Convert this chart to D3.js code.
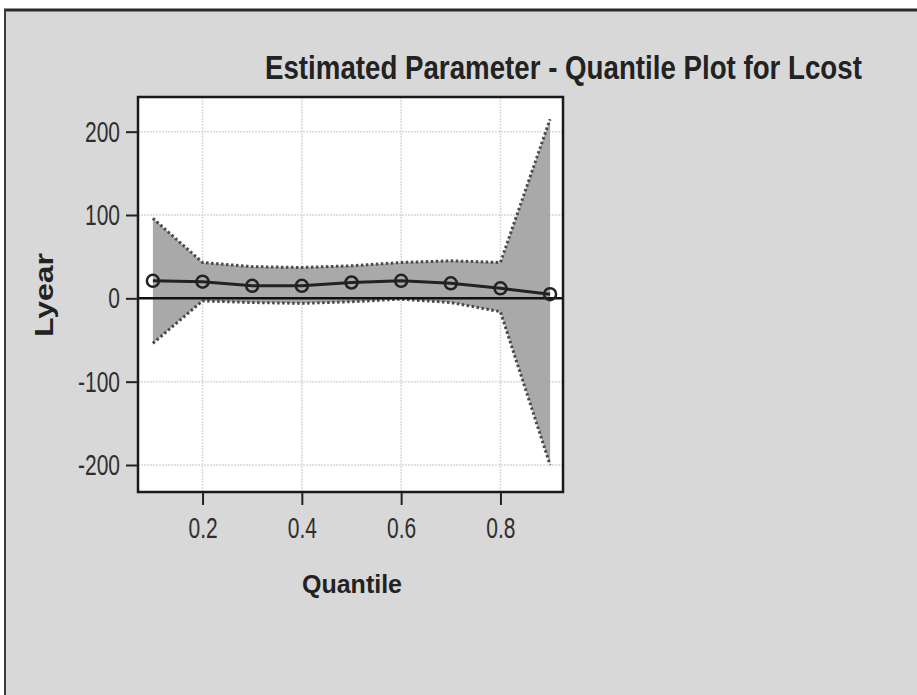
<!DOCTYPE html>
<html>
<head>
<meta charset="utf-8">
<script src="https://cdn.jsdelivr.net/npm/d3@7"></script>
<style>
  html, body { margin: 0; padding: 0; background: #ffffff; }
  svg { display: block; }
</style>
</head>
<body>
<svg id="chart" width="917" height="695"></svg>
<script>
// Quantile regression estimates for Lyear, with confidence limits
const quantiles = [0.1, 0.2, 0.3, 0.4, 0.5, 0.6, 0.7, 0.8, 0.9];
const estimate  = [21, 20, 15, 15, 19, 21, 18, 12, 5];
const upperCL   = [96, 43, 38, 37, 39, 43, 45, 43, 215];
const lowerCL   = [-54, -3, -5, -6, -4, -1, -5, -16, -200];

const xTicks = [0.2, 0.4, 0.6, 0.8];
const yTicks = [-200, -100, 0, 100, 200];

const titleText = "Estimated Parameter - Quantile Plot for Lcost";
const xLabel = "Quantile";
const yLabel = "Lyear";

const W = 917, H = 695;
const plot = { left: 138, right: 563, top: 97, bottom: 492 };
const sansFont = "'Liberation Sans', Arial, sans-serif";

const svg = d3.select("#chart");

// Page background and outer frame
svg.append("rect").attr("x", 0).attr("y", 0).attr("width", W).attr("height", H).attr("fill", "#ffffff");
svg.append("rect").attr("x", 5).attr("y", 10).attr("width", W - 5).attr("height", H - 10).attr("fill", "#d8d8d8");
svg.append("line").attr("x1", 4).attr("x2", W).attr("y1", 10).attr("y2", 10)
  .attr("stroke", "#2a2a2a").attr("stroke-width", 3);
svg.append("line").attr("x1", 5).attr("x2", 5).attr("y1", 9).attr("y2", H)
  .attr("stroke", "#3a3a3a").attr("stroke-width", 2);

const x = d3.scaleLinear().domain([0.07, 0.926]).range([plot.left, plot.right]);
const y = d3.scaleLinear().domain([-232.4, 241.6]).range([plot.bottom, plot.top]);

// Plot area
svg.append("rect")
  .attr("x", plot.left).attr("y", plot.top)
  .attr("width", plot.right - plot.left).attr("height", plot.bottom - plot.top)
  .attr("fill", "#ffffff");

// Grid
const grid = svg.append("g");
grid.selectAll("line.vx").data(xTicks).join("line")
  .attr("x1", d => x(d)).attr("x2", d => x(d))
  .attr("y1", plot.top).attr("y2", plot.bottom)
  .attr("stroke", "#d9d9d9").attr("stroke-width", 1.5).attr("stroke-dasharray", "2,1");
grid.selectAll("line.hy").data(yTicks).join("line")
  .attr("x1", plot.left).attr("x2", plot.right)
  .attr("y1", d => y(d)).attr("y2", d => y(d))
  .attr("stroke", "#d9d9d9").attr("stroke-width", 1.5).attr("stroke-dasharray", "2,1");

const rows = quantiles.map((q, i) => ({ q, est: estimate[i], hi: upperCL[i], lo: lowerCL[i] }));

// Confidence band
svg.append("path").datum(rows)
  .attr("d", d3.area().x(d => x(d.q)).y0(d => y(d.lo)).y1(d => y(d.hi)))
  .attr("fill", "#a9a9a9");

const edge = (key) => d3.line().x(d => x(d.q)).y(d => y(d[key]));
["hi", "lo"].forEach(k => {
  svg.append("path").datum(rows)
    .attr("d", edge(k))
    .attr("fill", "none")
    .attr("stroke", "#4a4a4a")
    .attr("stroke-width", 3)
    .attr("stroke-dasharray", "2.5,2.5");
});

// Zero reference line
svg.append("line")
  .attr("x1", plot.left).attr("x2", plot.right)
  .attr("y1", y(0)).attr("y2", y(0))
  .attr("stroke", "#111").attr("stroke-width", 2.5);

// Estimate line with markers
svg.append("path").datum(rows)
  .attr("d", edge("est"))
  .attr("fill", "none").attr("stroke", "#222").attr("stroke-width", 3);
svg.selectAll("circle.pt").data(rows).join("circle")
  .attr("cx", d => x(d.q)).attr("cy", d => y(d.est)).attr("r", 6)
  .attr("fill", "none").attr("stroke", "#222").attr("stroke-width", 2.5);

// Plot frame
svg.append("rect")
  .attr("x", plot.left).attr("y", plot.top)
  .attr("width", plot.right - plot.left).attr("height", plot.bottom - plot.top)
  .attr("fill", "none").attr("stroke", "#1a1a1a").attr("stroke-width", 2.5);

// Axes; tick labels use a condensed rendering of the sans face
const squeeze = 0.7;
const hyphenFmt = f => d => f(d).replace("\u2212", "-");
const xAxis = svg.append("g").attr("transform", `translate(0,${plot.bottom})`)
  .call(d3.axisBottom(x).tickValues(xTicks).tickFormat(hyphenFmt(d3.format(".1f"))).tickSize(13).tickPadding(5));
const yAxis = svg.append("g").attr("transform", `translate(${plot.left},0)`)
  .call(d3.axisLeft(y).tickValues(yTicks).tickFormat(hyphenFmt(d3.format("d"))).tickSize(12).tickPadding(6));
[xAxis, yAxis].forEach(a => {
  a.select(".domain").remove();
  a.selectAll(".tick line").attr("stroke", "#222").attr("stroke-width", 2);
  a.selectAll(".tick text")
    .attr("fill", "#2e2e2e")
    .style("font-family", sansFont)
    .style("font-size", "30px");
});
yAxis.selectAll(".tick text")
  .attr("x", -18 / squeeze)
  .attr("transform", `scale(${squeeze},1)`);
xAxis.selectAll(".tick text")
  .attr("dy", "0.93em")
  .attr("transform", `scale(${squeeze},1)`);

// Title, condensed to its target width
const title = svg.append("text")
  .style("font-family", sansFont).style("font-weight", "bold").style("font-size", "34px")
  .attr("fill", "#222")
  .text(titleText);
const titleScale = 597 / title.node().getComputedTextLength();
title.attr("transform", `translate(265,79) scale(${titleScale},1)`);

// Axis labels
svg.append("text")
  .attr("x", 352).attr("y", 593)
  .attr("text-anchor", "middle")
  .style("font-family", sansFont).style("font-weight", "bold").style("font-size", "25px")
  .attr("fill", "#222")
  .text(xLabel);

const yl = svg.append("text")
  .attr("text-anchor", "middle")
  .style("font-family", sansFont).style("font-weight", "bold").style("font-size", "26px")
  .attr("fill", "#222")
  .text(yLabel);
const ylScale = 84 / yl.node().getComputedTextLength();
yl.attr("transform", `translate(53,295) rotate(-90) scale(${ylScale},1)`);
</script>
</body>
</html>
